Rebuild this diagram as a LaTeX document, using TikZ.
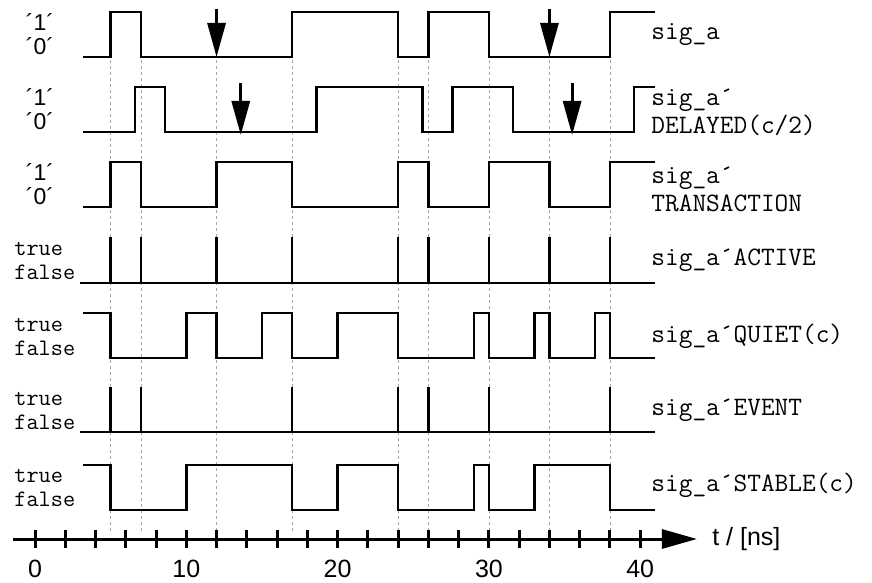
\documentclass[tikz,border=0pt]{standalone}
\usepackage{fontspec}
\setmainfont{Liberation Sans}
\usetikzlibrary{arrows.meta}
\begin{document}
\begin{tikzpicture}[x=0.5pt,y=-0.5pt,
  wave/.style={line width=1.25pt, line join=miter},
  guide/.style={gray!70, line width=0.4pt, dash pattern=on 1.5pt off 1.5pt},
  pointer/.style={line width=1.5pt, -{Triangle[length=17pt,width=9pt]}},
  lvl/.style={font=\fontsize{11.5}{12}\selectfont, inner sep=0pt},
  tf/.style={font=\ttfamily\fontsize{11.8}{12}\selectfont, anchor=west, inner sep=0pt},
  siglabel/.style={font=\ttfamily\fontsize{13.3}{14}\selectfont, anchor=west, align=left, inner sep=0pt},
  num/.style={font=\fontsize{12.5}{13}\selectfont, inner sep=0pt}]
\useasboundingbox (0,0) rectangle (872,583);
% level names on the left
\foreach \m [count=\i] in {34.5,109.5,184.5} {
  \node[lvl] (one\i) at (40,\m-12) {´1´};
  \node[lvl] (zero\i) at (40,\m+12) {´0´};
}
\foreach \m [count=\i from 4] in {260,336,410,487} {
  \node[tf] (true\i) at (14,\m-11) {true};
  \node[tf] (false\i) at (14,\m+12) {false};
}
% signal names on the right
\node[siglabel] (s1) at (651,34.5) {sig\_a};
\node[siglabel] (s2) at (651,112) {sig\_a´\\DELAYED(c/2)};
\node[siglabel] (s3) at (651,189) {sig\_a´\\TRANSACTION};
\node[siglabel] (s4) at (651,260) {sig\_a´ACTIVE};
\node[siglabel] (s5) at (651,336) {sig\_a´QUIET(c)};
\node[siglabel] (s6) at (651,410) {sig\_a´EVENT};
\node[siglabel] (s7) at (651,485) {sig\_a´STABLE(c)};
\begin{scope}[shift={(35,0)}, x=7.565pt]
% guide lines at the transactions
\foreach \t in {5,7,12,17,24,26,30,34,38}
  \draw[guide] (\t,12) -- (\t,532);
% sig_a
\draw[wave] (3.2,57) -| (5,12) -| (7,57) -| (17,12) -| (24,57) -| (26,12)
  -| (30,57) -| (38,12) -- (41,12);
% delayed
\draw[wave] (3.2,132) -| (6.6,87) -| (8.6,132) -| (18.6,87) -| (25.6,132)
  -| (27.6,87) -| (31.6,132) -| (39.6,87) -- (41,87);
% transaction
\draw[wave] (3.2,207) -| (5,162) -| (7,207) -| (12,162) -| (17,207) -| (24,162)
  -| (26,207) -| (30,162) -| (34,207) -| (38,162) -- (41,162);
% active
\draw[wave] (3,283) -- (41,283);
\foreach \t in {5,7,12,17,24,26,30,34,38}
  \draw[wave] (\t,283) -- (\t,237);
% quiet
\draw[wave] (3.2,313) -| (5,358) -| (10,313) -| (12,358) -| (15,313) -| (17,358)
  -| (20,313) -| (24,358) -| (29,313) -| (30,358) -| (33,313) -| (34,358)
  -| (37,313) -| (38,358) -- (41,358);
% event
\draw[wave] (3,432) -- (41,432);
\foreach \t in {5,7,17,24,26,30,38}
  \draw[wave] (\t,432) -- (\t,387);
% stable
\draw[wave] (3.2,465) -| (5,510) -| (10,465) -| (17,510) -| (20,465) -| (24,510)
  -| (29,465) -| (30,510) -| (33,465) -| (38,510) -- (41,510);
% sampling arrows
\foreach \t/\top/\tip [count=\i] in {12/9/57, 34/9/57, 13.6/83/135, 35.5/83/135} {
  \coordinate (p\i a) at (\t,\top);
  \coordinate (p\i b) at (\t,\tip);
  \draw[pointer] (p\i a) -- (p\i b);
}
% time axis
\coordinate (ax0) at (-1.45,539);
\coordinate (ax1) at (43.75,539);
\draw[line width=1.5pt, -{Triangle[length=17.5pt,width=9.5pt]}] (ax0) -- (ax1);
\foreach \t in {0,2,...,40}
  \draw[line width=1.5pt] (\t,530) -- (\t,548);
\foreach \n in {0,10,20,30,40}
  \node[num] (tl\n) at (\n,569) {\n};
\node[num, anchor=west, xshift=7.5pt] (unit) at (ax1) {t / [ns]};
\end{scope}
\end{tikzpicture}
\end{document}
